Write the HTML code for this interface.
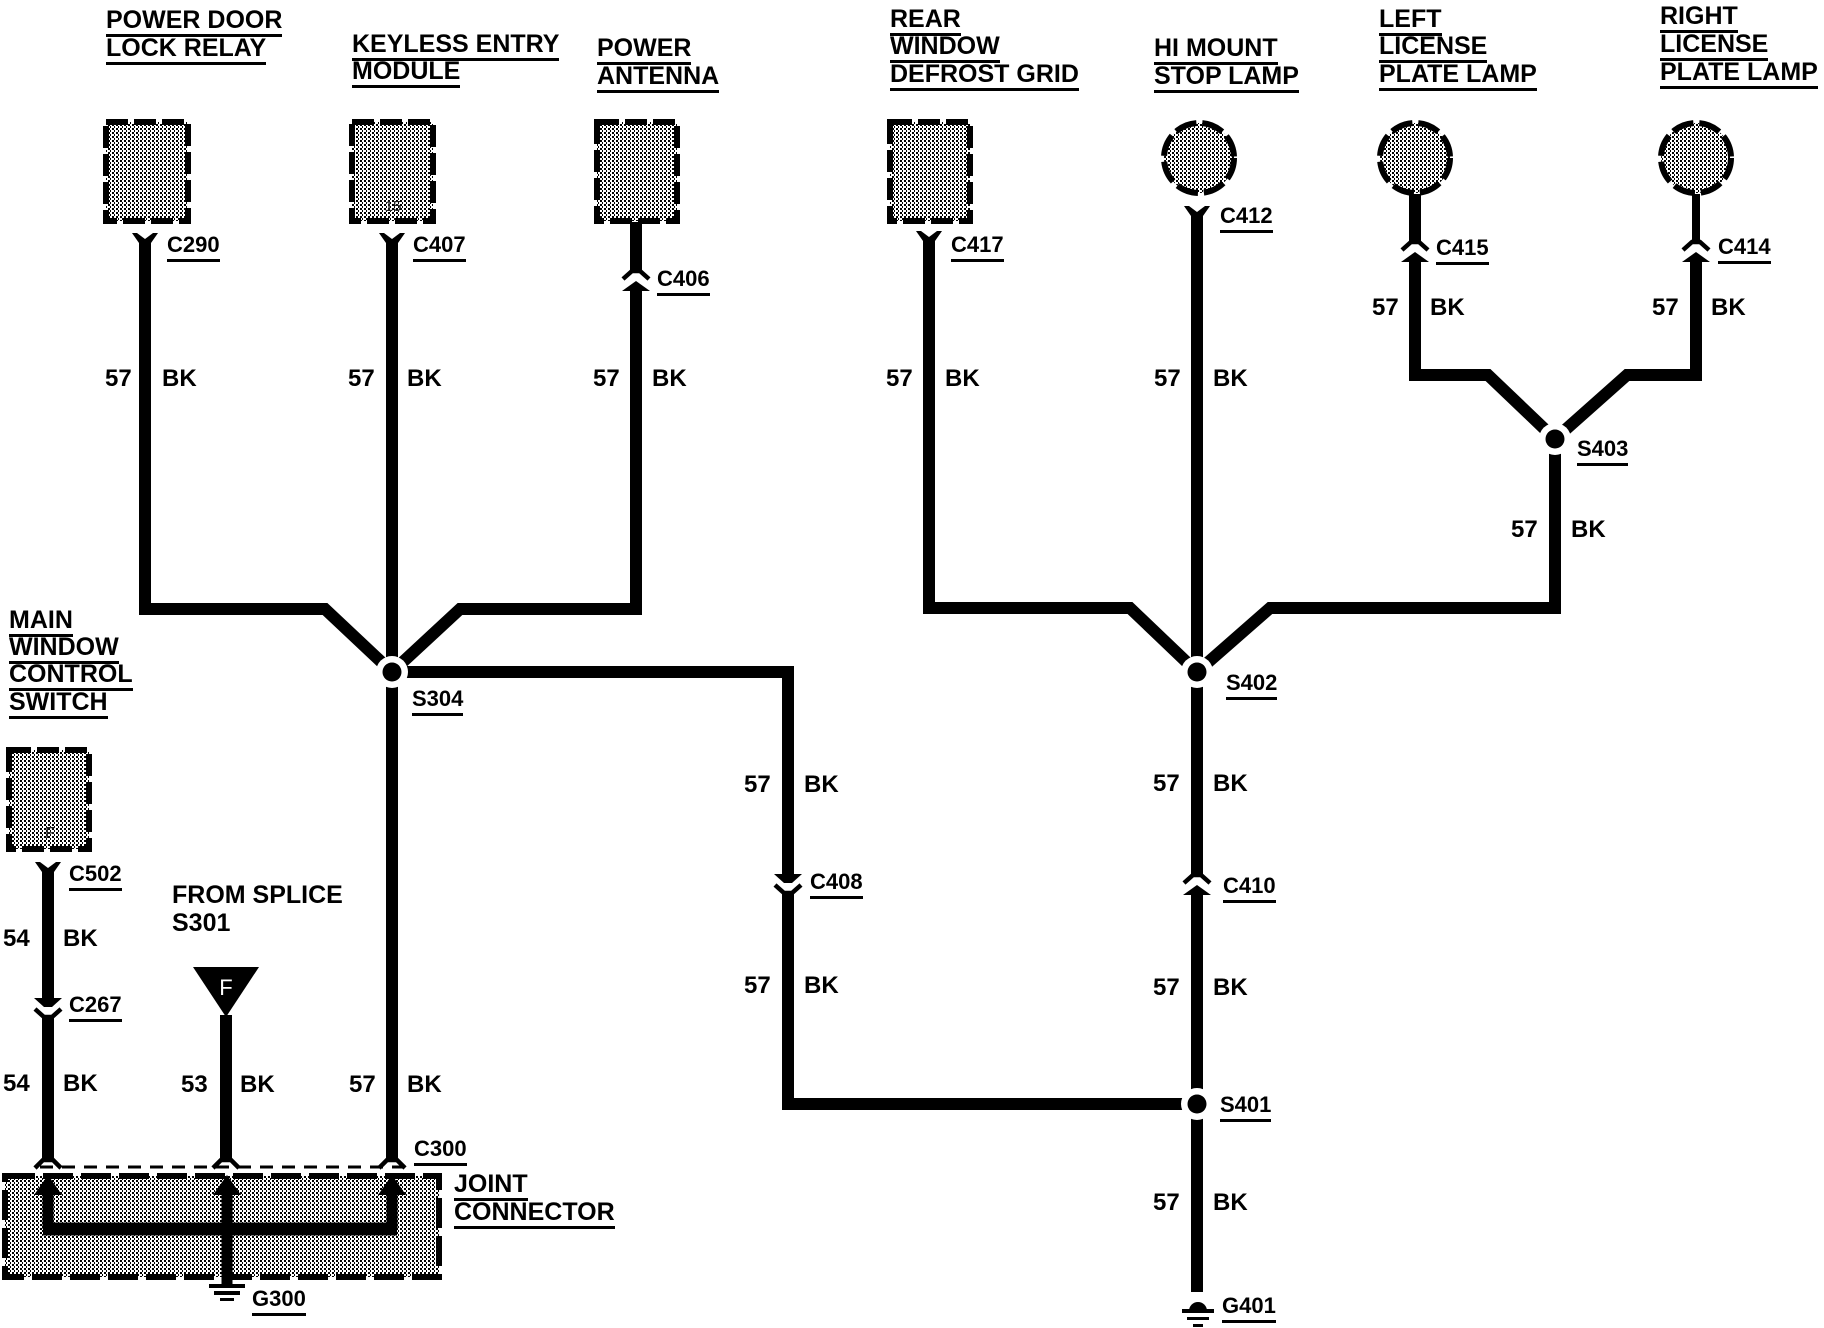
<!DOCTYPE html>
<html><head><meta charset="utf-8">
<style>
html,body{margin:0;padding:0;background:#fff;}
#c{position:relative;width:1824px;height:1328px;overflow:hidden;background:#fff;}
svg{position:absolute;left:0;top:0;}
.t,.l,.w,.p{position:absolute;white-space:nowrap;font-family:"Liberation Sans",Arial,sans-serif;font-weight:bold;color:#000;}
.t{font-size:25px;line-height:25px;border-bottom:3px solid #000;padding-bottom:1px;}
.p{font-size:25px;line-height:25px;}
.l{font-size:22px;line-height:22px;border-bottom:3px solid #000;padding-bottom:3px;}
.w{font-size:24px;line-height:24px;}
</style></head><body><div id="c">
<svg width="1824" height="1328" viewBox="0 0 1824 1328" xmlns="http://www.w3.org/2000/svg">
<defs>
<pattern id="st" width="4" height="4" patternUnits="userSpaceOnUse">
<rect width="4" height="4" fill="#fff"/>
<rect width="2" height="2" fill="#000"/>
<rect x="2" y="2" width="1" height="2" fill="#000"/>
</pattern>
</defs>

<!-- component boxes / lamps -->
<g fill="url(#st)" stroke="#000" stroke-width="6" stroke-dasharray="22 6">
<rect x="106" y="122" width="82" height="99"/>
<rect x="352" y="122" width="81" height="99"/>
<rect x="597" y="122" width="80" height="99"/>
<rect x="890" y="122" width="80" height="99"/>
<rect x="9" y="750" width="80" height="99"/>
<rect x="5" y="1176" width="434" height="101" stroke-dasharray="30 8"/>
<circle cx="1199" cy="158" r="35"/>
<circle cx="1415" cy="158" r="35"/>
<circle cx="1696" cy="158" r="35"/>
</g>
<text x="393" y="211" font-family="Liberation Sans, Arial, sans-serif" font-size="15" fill="#222" text-anchor="middle">15</text>
<text x="50" y="838" font-family="Liberation Sans, Arial, sans-serif" font-size="16" fill="#222" text-anchor="middle">F</text>

<!-- wires -->
<g fill="none" stroke="#000" stroke-width="12" stroke-linejoin="miter">
<path d="M145,244 V609 H325 L392,672"/>
<path d="M392,244 V1161"/>
<path d="M636,222 V272 M636,289 V609 H460 L392,672"/>
<path d="M392,672 H788 V875 M788,892 V1104 H1197"/>
<path d="M929,242 V608 H1130 L1197,672"/>
<path d="M1197,217 V876 M1197,893 V1292"/>
<path d="M1555,439 V608 H1270 L1197,672"/>
<path d="M1415,259 V375 H1488 L1555,439"/>
<path d="M1696,259 V375 H1627 L1555,439"/>
<path d="M1415,194 V243"/>
<path d="M1696,194 V243" stroke-width="8"/>
<path d="M48,873 V999 M48,1016 V1161"/>
<path d="M226,1015 V1161"/>
</g>

<!-- connector symbols -->
<g fill="#000">
<polygon points="132,233 137,233 145,239 153,233 158,233 151,243 151,246 139,246 139,243"/>
<polygon points="379,233 384,233 392,239 400,233 405,233 398,243 398,246 386,246 386,243"/>
<polygon points="916,231 921,231 929,237 937,231 942,231 935,241 935,244 923,244 923,241"/>
<polygon points="1184,206 1189,206 1197,212 1205,206 1210,206 1203,216 1203,219 1191,219 1191,216"/>
<polygon points="35,862 40,862 48,868 56,862 61,862 54,872 54,875 42,875 42,872"/>
<polygon points="636,281 650,291 622,291"/>
<polygon points="1415,252 1429,262 1401,262"/>
<polygon points="1696,252 1710,262 1682,262"/>
<polygon points="1197,885 1211,895 1183,895"/>
<polygon points="774,874 802,874 792,883 784,883"/>
<polygon points="34,998 62,998 52,1007 44,1007"/>
</g>
<g fill="none" stroke="#000" stroke-width="4.5" stroke-linejoin="miter">
<path d="M623,279 L632,271 L640,271 L649,279"/>
<path d="M1402,250 L1411,242 L1419,242 L1428,250"/>
<path d="M1683,250 L1692,242 L1700,242 L1709,250"/>
<path d="M1184,883 L1193,875 L1201,875 L1210,883"/>
<path d="M775,885 L784,893 L792,893 L801,885"/>
<path d="M35,1009 L44,1017 L52,1017 L61,1009"/>
<path d="M35,1168 L43,1160 L53,1160 L61,1168"/>
<path d="M213,1168 L221,1160 L231,1160 L239,1168"/>
<path d="M379,1168 L387,1160 L397,1160 L405,1168"/>
</g>
<path d="M40,1167 H403" stroke="#000" stroke-width="3" stroke-dasharray="13 9" fill="none"/>

<!-- joint connector internals -->
<g fill="#000">
<polygon points="48,1175 62,1195 34,1195"/>
<polygon points="227,1175 241,1195 213,1195"/>
<polygon points="392,1175 406,1195 378,1195"/>
</g>
<g fill="none" stroke="#000" stroke-width="11">
<path d="M48,1193 V1229 M392,1193 V1229 M227,1193 V1284"/>
<path d="M43,1229 H397" stroke-width="13"/>
</g>
<g fill="#000">
<rect x="209" y="1284" width="36" height="4"/>
<rect x="214" y="1291" width="26" height="4"/>
<rect x="220" y="1298" width="14" height="3"/>
</g>

<!-- F triangle -->
<polygon points="193,967 259,967 226,1017" fill="#000"/>
<text x="226" y="995" fill="#fff" font-size="22" text-anchor="middle" font-family="Liberation Sans, Arial, sans-serif">F</text>

<!-- G401 ground -->
<g fill="#000">
<path d="M1189,1311 A9,9 0 0 1 1207,1311 Z"/>
<rect x="1182" y="1309" width="32" height="4"/>
<rect x="1187" y="1317" width="22" height="3"/>
<rect x="1193" y="1324" width="10" height="3"/>
</g>

<!-- splices -->
<g>
<circle cx="392" cy="672" r="16" fill="#fff"/><circle cx="392" cy="672" r="9.5" fill="#000"/>
<circle cx="1197" cy="672" r="16" fill="#fff"/><circle cx="1197" cy="672" r="9.5" fill="#000"/>
<circle cx="1197" cy="1104" r="16" fill="#fff"/><circle cx="1197" cy="1104" r="9.5" fill="#000"/>
<circle cx="1555" cy="439" r="16" fill="#fff"/><circle cx="1555" cy="439" r="9.5" fill="#000"/>
</g>
</svg>

<!-- titles -->
<div class="t" style="left:106px;top:8px">POWER DOOR</div>
<div class="t" style="left:106px;top:36px">LOCK RELAY</div>
<div class="t" style="left:352px;top:32px">KEYLESS ENTRY</div>
<div class="t" style="left:352px;top:59px">MODULE</div>
<div class="t" style="left:597px;top:36px">POWER</div>
<div class="t" style="left:597px;top:64px">ANTENNA</div>
<div class="t" style="left:890px;top:7px">REAR</div>
<div class="t" style="left:890px;top:34px">WINDOW</div>
<div class="t" style="left:890px;top:62px">DEFROST GRID</div>
<div class="t" style="left:1154px;top:36px">HI MOUNT</div>
<div class="t" style="left:1154px;top:64px">STOP LAMP</div>
<div class="t" style="left:1379px;top:7px">LEFT</div>
<div class="t" style="left:1379px;top:34px">LICENSE</div>
<div class="t" style="left:1379px;top:62px">PLATE LAMP</div>
<div class="t" style="left:1660px;top:4px">RIGHT</div>
<div class="t" style="left:1660px;top:32px">LICENSE</div>
<div class="t" style="left:1660px;top:60px">PLATE LAMP</div>
<div class="t" style="left:9px;top:608px">MAIN</div>
<div class="t" style="left:9px;top:635px">WINDOW</div>
<div class="t" style="left:9px;top:662px">CONTROL</div>
<div class="t" style="left:9px;top:690px">SWITCH</div>
<div class="t" style="left:454px;top:1172px">JOINT</div>
<div class="t" style="left:454px;top:1200px">CONNECTOR</div>
<div class="p" style="left:172px;top:883px">FROM SPLICE</div>
<div class="p" style="left:172px;top:911px">S301</div>

<!-- component labels -->
<div class="l" style="left:167px;top:234px">C290</div>
<div class="l" style="left:413px;top:234px">C407</div>
<div class="l" style="left:657px;top:268px">C406</div>
<div class="l" style="left:951px;top:234px">C417</div>
<div class="l" style="left:1220px;top:205px">C412</div>
<div class="l" style="left:1436px;top:237px">C415</div>
<div class="l" style="left:1718px;top:236px">C414</div>
<div class="l" style="left:1577px;top:438px">S403</div>
<div class="l" style="left:412px;top:688px">S304</div>
<div class="l" style="left:1226px;top:672px">S402</div>
<div class="l" style="left:810px;top:871px">C408</div>
<div class="l" style="left:1223px;top:875px">C410</div>
<div class="l" style="left:1220px;top:1094px">S401</div>
<div class="l" style="left:1222px;top:1295px">G401</div>
<div class="l" style="left:69px;top:863px">C502</div>
<div class="l" style="left:69px;top:994px">C267</div>
<div class="l" style="left:414px;top:1138px">C300</div>
<div class="l" style="left:252px;top:1288px">G300</div>

<!-- wire labels -->
<div class="w" style="left:105px;top:367px">57</div><div class="w" style="left:162px;top:367px">BK</div>
<div class="w" style="left:348px;top:367px">57</div><div class="w" style="left:407px;top:367px">BK</div>
<div class="w" style="left:593px;top:367px">57</div><div class="w" style="left:652px;top:367px">BK</div>
<div class="w" style="left:886px;top:367px">57</div><div class="w" style="left:945px;top:367px">BK</div>
<div class="w" style="left:1154px;top:367px">57</div><div class="w" style="left:1213px;top:367px">BK</div>
<div class="w" style="left:1372px;top:296px">57</div><div class="w" style="left:1430px;top:296px">BK</div>
<div class="w" style="left:1652px;top:296px">57</div><div class="w" style="left:1711px;top:296px">BK</div>
<div class="w" style="left:1511px;top:518px">57</div><div class="w" style="left:1571px;top:518px">BK</div>
<div class="w" style="left:744px;top:773px">57</div><div class="w" style="left:804px;top:773px">BK</div>
<div class="w" style="left:744px;top:974px">57</div><div class="w" style="left:804px;top:974px">BK</div>
<div class="w" style="left:1153px;top:772px">57</div><div class="w" style="left:1213px;top:772px">BK</div>
<div class="w" style="left:1153px;top:976px">57</div><div class="w" style="left:1213px;top:976px">BK</div>
<div class="w" style="left:1153px;top:1191px">57</div><div class="w" style="left:1213px;top:1191px">BK</div>
<div class="w" style="left:3px;top:927px">54</div><div class="w" style="left:63px;top:927px">BK</div>
<div class="w" style="left:3px;top:1072px">54</div><div class="w" style="left:63px;top:1072px">BK</div>
<div class="w" style="left:181px;top:1073px">53</div><div class="w" style="left:240px;top:1073px">BK</div>
<div class="w" style="left:349px;top:1073px">57</div><div class="w" style="left:407px;top:1073px">BK</div>
</div></body></html>
